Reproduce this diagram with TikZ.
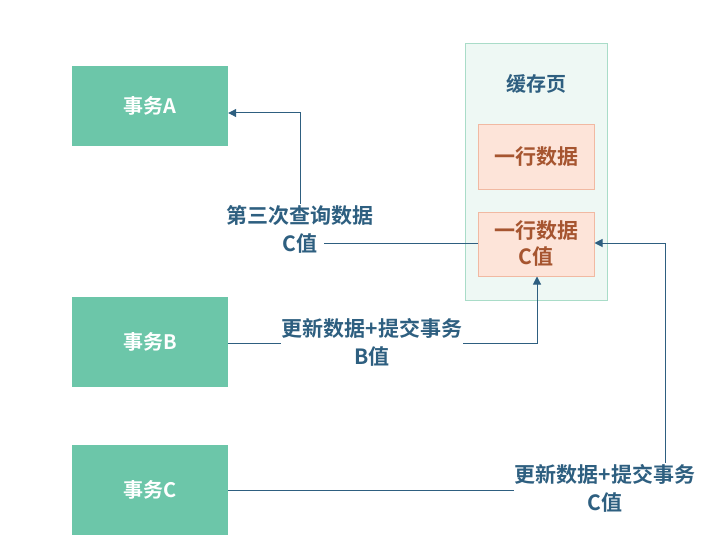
\documentclass[tikz,border=0pt]{standalone}
\usepackage{fontspec}
\setmainfont{Noto Sans CJK SC}[BoldFont={Noto Sans CJK SC Bold}]
\usetikzlibrary{arrows.meta}
\definecolor{teal}{HTML}{6CC6A9}
\definecolor{pagefill}{HTML}{EEF8F4}
\definecolor{pageline}{HTML}{A9DCC8}
\definecolor{rowfill}{HTML}{FDE4D9}
\definecolor{rowline}{HTML}{F1B9A2}
\definecolor{rowtext}{HTML}{A65530}
\definecolor{ink}{HTML}{2E5F80}
\begin{document}
\begin{tikzpicture}[x=1pt,y=-1pt,
 tx/.style={fill=teal,draw=none,minimum width=156pt,minimum height=80pt,text=white,font=\bfseries\fontsize{20}{24}\selectfont},
 row/.style={fill=rowfill,draw=rowline,line width=1pt,minimum width=116pt,minimum height=64pt,text=rowtext,font=\bfseries\fontsize{21}{26}\selectfont,align=center,inner sep=1pt},
 lbl/.style={text=ink,font=\bfseries\fontsize{21}{28}\selectfont,align=center,inner sep=1pt},
 con/.style={draw=ink,line width=1pt},
 arr/.style={con,-{Triangle[length=8pt,width=8pt]}}]
\useasboundingbox (0,0) rectangle (725,559);
\node[tx] (A) at (150,106) {事务A};
\node[tx,minimum height=90pt] (B) at (150,342) {事务B};
\node[tx,minimum height=90pt] (C) at (150,490) {事务C};
\node[fill=pagefill,draw=pageline,line width=1pt,minimum width=142pt,minimum height=256pt] (P) at (536,172) {};
\node[text=ink,font=\bfseries\fontsize{20}{24}\selectfont] (Pt) at (536,84) {缓存页};
\node[row] (R1) at (536,157) {一行数据};
\node[row] (R2) at (536,244) {一行数据\\C值};
\node[lbl] (L1) at (300,229) {第三次查询数据\\C值};
\node[lbl] (L2) at (372,342) {更新数据+提交事务\\B值};
\node[lbl] (L3) at (605,488) {更新数据+提交事务\\C值};
\coordinate (a1) at (300,113);
\coordinate (a0) at (324,243);
\coordinate (b1) at (537,343);
\coordinate (c1) at (665,490);
\coordinate (c2) at (665,243);
\draw[con] (R2.west |- a0) -- (a0);
\draw[arr] (L1.north) -- (a1) -- (A.east |- a1);
\draw[con] (B.east |- b1) -- (L2.west |- b1);
\draw[arr] (L2.east |- b1) -- (b1) -- (R2.south -| b1);
\draw[con] (C.east |- c1) -- (L3.west |- c1);
\draw[arr] (c1 |- L3.north) -- (c2) -- (R2.east |- c2);
\end{tikzpicture}
\end{document}
